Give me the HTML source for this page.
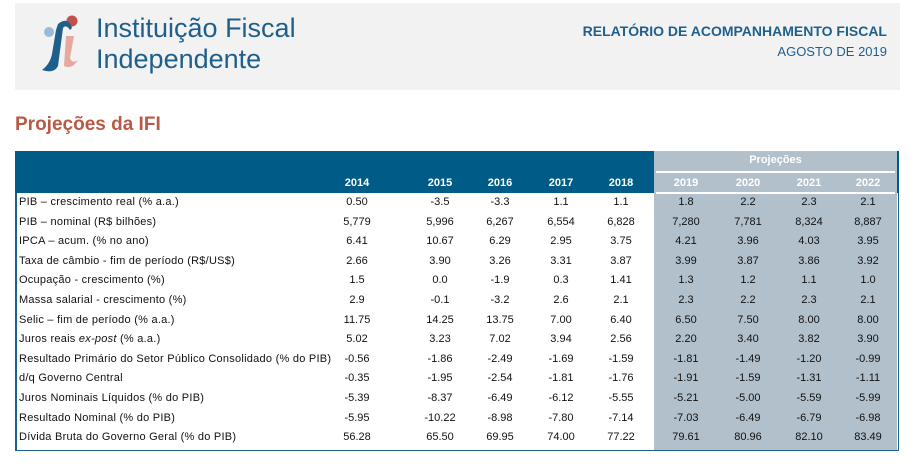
<!DOCTYPE html>
<html><head><meta charset="utf-8"><style>
body{margin:0;width:913px;height:468px;background:#fff;font-family:"Liberation Sans",sans-serif;position:relative;overflow:hidden}
.hdr{position:absolute;left:15px;top:3px;width:885px;height:87px;background:#f2f2f2}
.a{position:absolute;white-space:nowrap}
.c{position:absolute;width:60px;margin-left:-30px;text-align:center;font-size:11px;color:#111}
.l{position:absolute;left:19px;font-size:11px;color:#111;white-space:nowrap;letter-spacing:0.25px}
</style></head><body>
<div class="hdr"></div>
<svg class="a" style="left:36px;top:12px" width="50" height="62">
<circle cx="13" cy="20" r="5" fill="#9db8d9"/>
<circle cx="36" cy="9" r="5.5" fill="#c0504d"/>
<path d="M22 12 Q32 4 36 16 L34 18 Q30 12 27 16 L22 54 Q18 62 6 58 Q14 52 16 42 L20 18 Z" fill="#1f5f8b"/>
<path d="M30 24 L38 24 L34 46 Q36 52 42 48 Q36 58 28 54 Z" fill="#e5a9a0"/>
</svg>
<div class="a" style="left:96px;top:13px;font-size:27px;color:#1f5f8b;line-height:31px">Instituição Fiscal<br>Independente</div>
<div class="a" style="right:26px;top:23px;font-size:14px;font-weight:bold;color:#1f5f8b">RELATÓRIO DE ACOMPANHAMENTO FISCAL</div>
<div class="a" style="right:26px;top:44px;font-size:13px;color:#1f5f8b">AGOSTO DE 2019</div>
<div class="a" style="left:15px;top:114px;font-size:19px;font-weight:bold;color:#b85a45">Projeções da IFI</div>
<div class="a" style="left:15px;top:151px;width:884px;height:300px;border:1px solid #1f5f8b;border-left:2px solid #1f5f8b;box-sizing:border-box"></div>
<div class="a" style="left:15px;top:151px;width:884px;height:42px;background:#005b87"></div>
<div class="a" style="left:654px;top:151px;width:243px;height:299px;background:#b2c0cb"></div>
<div class="a" style="left:656px;top:171px;width:239px;height:2px;background:#fff"></div>
<div class="a" style="left:656px;top:192px;width:239px;height:2px;background:#fff"></div>
<div class="a" style="left:654px;top:154px;width:243px;text-align:center;font-size:11px;font-weight:bold;color:#fff">Projeções</div>
<div id="t"></div>
<script>
var cx=[357,440,500,561,621,686,748,809,868];
var yrs=[2014,2015,2016,2017,2018,2019,2020,2021,2022];
var h='';
yrs.forEach(function(y,i){h+='<div class="c" style="left:'+cx[i]+'px;top:177px;font-weight:bold;color:#fff">'+y+'</div>';});
var rows=[
["PIB – crescimento real (% a.a.)","0.50 -3.5 -3.3 1.1 1.1 1.8 2.2 2.3 2.1"],
["PIB – nominal (R$ bilhões)","5,779 5,996 6,267 6,554 6,828 7,280 7,781 8,324 8,887"],
["IPCA – acum. (% no ano)","6.41 10.67 6.29 2.95 3.75 4.21 3.96 4.03 3.95"],
["Taxa de câmbio - fim de período (R$/US$)","2.66 3.90 3.26 3.31 3.87 3.99 3.87 3.86 3.92"],
["Ocupação - crescimento (%)","1.5 0.0 -1.9 0.3 1.41 1.3 1.2 1.1 1.0"],
["Massa salarial - crescimento (%)","2.9 -0.1 -3.2 2.6 2.1 2.3 2.2 2.3 2.1"],
["Selic – fim de período (% a.a.)","11.75 14.25 13.75 7.00 6.40 6.50 7.50 8.00 8.00"],
["Juros reais <i>ex-post</i> (% a.a.)","5.02 3.23 7.02 3.94 2.56 2.20 3.40 3.82 3.90"],
["Resultado Primário do Setor Público Consolidado (% do PIB)","-0.56 -1.86 -2.49 -1.69 -1.59 -1.81 -1.49 -1.20 -0.99"],
["d/q Governo Central","-0.35 -1.95 -2.54 -1.81 -1.76 -1.91 -1.59 -1.31 -1.11"],
["Juros Nominais Líquidos (% do PIB)","-5.39 -8.37 -6.49 -6.12 -5.55 -5.21 -5.00 -5.59 -5.99"],
["Resultado Nominal (% do PIB)","-5.95 -10.22 -8.98 -7.80 -7.14 -7.03 -6.49 -6.79 -6.98"],
["Dívida Bruta do Governo Geral (% do PIB)","56.28 65.50 69.95 74.00 77.22 79.61 80.96 82.10 83.49"]];
rows.forEach(function(r,k){var t=196+k*19.6;
h+='<div class="l" style="top:'+t+'px">'+r[0]+'</div>';
r[1].split(' ').forEach(function(v,i){h+='<div class="c" style="left:'+cx[i]+'px;top:'+t+'px">'+v+'</div>';});});
document.getElementById('t').innerHTML=h;
</script>
</body></html>
